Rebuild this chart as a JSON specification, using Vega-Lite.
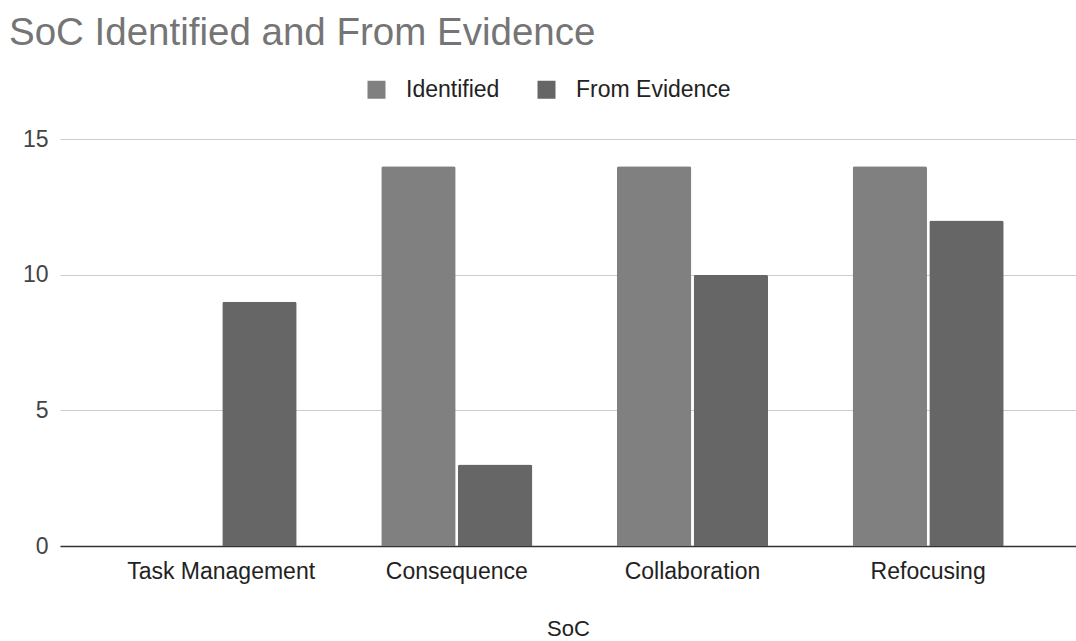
{
  "$schema": "https://vega.github.io/schema/vega-lite/v6.json",
  "width": 1016,
  "height": 407,
  "autosize": {"type": "none"},
  "padding": {"left": 60, "top": 139, "right": 0, "bottom": 95},
  "background": "white",
  "config": {
    "view": {"stroke": null},
    "font": "Liberation Sans"
  },
  "title": {
    "text": "SoC Identified and From Evidence",
    "anchor": "start",
    "frame": "group",
    "dx": -51,
    "offset": 25,
    "fontSize": 38.5,
    "fontWeight": "normal",
    "color": "#757575",
    "font": "Liberation Sans"
  },
  "data": {
    "values": [
      {"SoC": "Task Management", "series": "Identified", "value": 0},
      {"SoC": "Task Management", "series": "From Evidence", "value": 9},
      {"SoC": "Consequence", "series": "Identified", "value": 14},
      {"SoC": "Consequence", "series": "From Evidence", "value": 3},
      {"SoC": "Collaboration", "series": "Identified", "value": 14},
      {"SoC": "Collaboration", "series": "From Evidence", "value": 10},
      {"SoC": "Refocusing", "series": "Identified", "value": 14},
      {"SoC": "Refocusing", "series": "From Evidence", "value": 12}
    ]
  },
  "mark": {"type": "bar", "cornerRadiusTopLeft": 2, "cornerRadiusTopRight": 2},
  "encoding": {
    "x": {
      "field": "SoC",
      "type": "nominal",
      "sort": ["Task Management", "Consequence", "Collaboration", "Refocusing"],
      "scale": {"paddingInner": 0.359, "paddingOuter": 0.335, "align": 0.542},
      "axis": {
        "title": "SoC",
        "labelAngle": 0,
        "labelFontSize": 23,
        "labelLimit": 400,
        "labelColor": "#222222",
        "labelPadding": 14,
        "ticks": false,
        "domainColor": "#333333",
        "domainWidth": 1.5,
        "titleFontSize": 22,
        "titleFontWeight": "normal",
        "titleColor": "#222222",
        "titlePadding": 35
      }
    },
    "xOffset": {
      "field": "series",
      "type": "nominal",
      "sort": ["Identified", "From Evidence"],
      "scale": {"paddingInner": 0.03}
    },
    "y": {
      "field": "value",
      "type": "quantitative",
      "scale": {"domain": [0, 15], "nice": false},
      "axis": {
        "title": null,
        "values": [0, 5, 10, 15],
        "labelFontSize": 23,
        "labelColor": "#444444",
        "labelPadding": 12,
        "ticks": false,
        "domain": false,
        "gridColor": "#cccccc",
        "gridWidth": 1
      }
    },
    "color": {
      "field": "series",
      "type": "nominal",
      "sort": ["Identified", "From Evidence"],
      "scale": {"domain": ["Identified", "From Evidence"], "range": ["#808080", "#666666"]},
      "legend": {
        "title": null,
        "orient": "none",
        "direction": "horizontal",
        "legendX": 305,
        "legendY": -61,
        "padding": 0,
        "symbolType": "square",
        "symbolSize": 324,
        "symbolStrokeWidth": 0,
        "symbolOpacity": 1,
        "labelFontSize": 23,
        "labelColor": "#222222",
        "labelOffset": 18,
        "columnPadding": 35
      }
    }
  }
}
